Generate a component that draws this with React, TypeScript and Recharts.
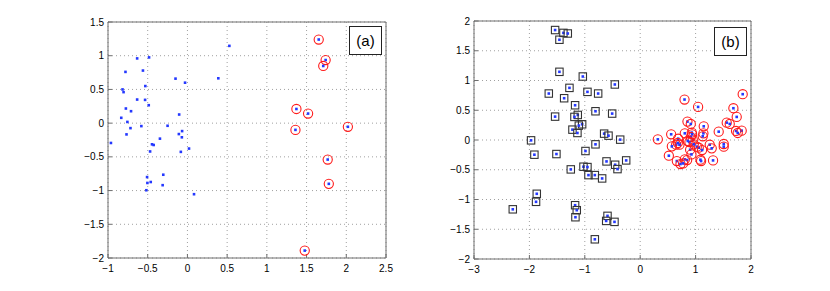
import { ScatterChart, Scatter, XAxis, YAxis, CartesianGrid } from 'recharts';

// panel (a)
const xTicksA = [-1, -0.5, 0, 0.5, 1, 1.5, 2, 2.5];
const yTicksA = [-2, -1.5, -1, -0.5, 0, 0.5, 1, 1.5];

const leftDots = [
  [-0.633, 0.96], [-0.483, 0.975], [-0.78, 0.76], [-0.56, 0.78], [-0.15, 0.66],
  [-0.03, 0.6], [-0.53, 0.55], [-0.817, 0.5], [-0.804, 0.46], [-0.633, 0.35],
  [-0.533, 0.345], [-0.487, 0.266], [-0.775, 0.217], [-0.71, 0.177], [-0.104, 0.128],
  [-0.833, 0.079], [-0.756, 0.018], [-0.717, -0.074], [-0.58, -0.044], [-0.25, -0.039],
  [-0.767, -0.167], [-0.067, -0.118], [-0.108, -0.162], [-0.07, -0.21], [-0.346, -0.23],
  [-0.963, -0.294], [-0.446, -0.314], [-0.425, -0.324], [0.02, -0.377], [-0.47, -0.42],
  [-0.083, -0.426], [-0.304, -0.765], [-0.508, -0.8], [-0.312, -0.92], [-0.504, -0.887],
  [-0.462, -0.873], [-0.517, -0.995], [0.083, -1.054], [0.528, 1.146], [0.389, 0.665],
];

const leftCircled = [
  [1.653, 1.24], [1.74, 0.936], [1.71, 0.848], [1.372, 0.21], [1.519, 0.142],
  [1.36, -0.1], [2.02, -0.054], [1.766, -0.54], [1.78, -0.9], [1.477, -1.89],
];

// panel (b)
const xTicksB = [-3, -2, -1, 0, 1, 2];
const yTicksB = [-2, -1.5, -1, -0.5, 0, 0.5, 1, 1.5, 2];

const rightSquares = [
  [-1.536, 1.848], [-1.386, 1.8], [-1.307, 1.79], [-1.458, 1.685], [-1.458, 1.146],
  [-1.036, 1.067], [-0.458, 0.933], [-1.277, 0.876], [-0.952, 0.809], [-0.759, 0.781],
  [-1.65, 0.781], [-1.373, 0.702], [-1.175, 0.584], [-0.807, 0.483], [-0.506, 0.444],
  [-1.536, 0.393], [-1.127, 0.421], [-1.187, 0.388], [-1.048, 0.264], [-1.108, 0.242],
  [-1.223, 0.174], [-1.133, 0.118], [-0.651, 0.107], [-0.572, 0.073], [-0.361, 0.006],
  [-1.97, -0.006], [-0.807, -0.073], [-0.988, -0.185], [-1.91, -0.247], [-1.512, -0.236],
  [-0.253, -0.343], [-0.608, -0.36], [-0.452, -0.416], [-0.41, -0.489], [-1.024, -0.449],
  [-0.952, -0.455], [-1.253, -0.494], [-0.934, -0.59], [-0.819, -0.59], [-0.687, -0.646],
  [-1.867, -0.904], [-1.88, -1.039], [-2.3, -1.165], [-1.175, -1.096], [-1.145, -1.18],
  [-1.169, -1.298], [-0.59, -1.275], [-0.614, -1.36], [-0.464, -1.376], [-0.819, -1.669],
];

const rightCircled = [
  [0.8, 0.68], [1.045, 0.556], [1.85, 0.77], [1.682, 0.534], [1.742, 0.388],
  [1.562, 0.292], [1.616, 0.27], [0.853, 0.309], [0.913, 0.27], [1.147, 0.23],
  [1.417, 0.14], [1.73, 0.152], [1.832, 0.157], [1.76, 0.118], [0.559, 0.096],
  [0.805, 0.112], [0.931, 0.124], [1.141, 0.112], [1.129, 0.062], [0.318, 0.011],
  [0.685, 0.022], [0.913, 0.05], [0.949, 0.006], [0.889, -0.034], [0.679, -0.05],
  [0.649, -0.079], [0.709, -0.079], [0.571, -0.107], [1.021, -0.112], [1.057, -0.129],
  [1.255, -0.079], [1.291, -0.14], [0.901, -0.163], [1.117, -0.169], [1.508, -0.067],
  [1.508, -0.112], [0.925, -0.242], [0.517, -0.264], [0.847, -0.337], [0.805, -0.326],
  [0.661, -0.354], [0.727, -0.404], [0.775, -0.393], [1.087, -0.331], [1.099, -0.354],
  [1.315, -0.343], [0.937, 0.096], [0.859, -0.017], [0.967, -0.073],
];

const toPts = (arr: number[][]) => arr.map(([x, y]) => ({ x, y }));
const fmt = (v: number) => String(v).replace('-', '\u2212');

const BLUE = '#2438ff';
const FRAME = '#6e6e6e';
const FONT = '"Liberation Sans", Arial, sans-serif';

const Dot = (p: any) => <rect x={p.cx - 1.3} y={p.cy - 1.3} width={2.6} height={2.6} fill={BLUE} />;

const Ring = (p: any) => (
  <g>
    <circle cx={p.cx} cy={p.cy} r={4.6} fill="none" stroke="#ff1a1a" strokeWidth={1.1} />
    <rect x={p.cx - 1.3} y={p.cy - 1.3} width={2.6} height={2.6} fill={BLUE} />
  </g>
);

const Box = (p: any) => (
  <g>
    <rect x={p.cx - 3.7} y={p.cy - 3.7} width={7.4} height={7.4} fill="none" stroke="#333" strokeWidth={1.1} />
    <rect x={p.cx - 1.3} y={p.cy - 1.3} width={2.6} height={2.6} fill={BLUE} />
  </g>
);

interface PanelProps {
  left: number;
  width: number;
  margin: { top: number; right: number; bottom: number; left: number };
  yWidth: number;
  xDomain: number[];
  yDomain: number[];
  xTicks: number[];
  yTicks: number[];
  children: any;
}

function Panel({ left, width, margin, yWidth, xDomain, yDomain, xTicks, yTicks, children }: PanelProps) {
  const tickStyle = { fill: '#000', fontSize: 10, fontFamily: FONT };
  return (
    <div style={{ position: 'absolute', left, top: 0 }}>
      <ScatterChart width={width} height={291} margin={margin}>
        <CartesianGrid stroke="#a0a0a0" strokeDasharray="1 3" />
        <XAxis type="number" dataKey="x" domain={xDomain} ticks={xTicks} allowDataOverflow interval={0}
          height={20} tickSize={-4} tickMargin={11} tickFormatter={fmt} stroke={FRAME} tick={tickStyle} />
        <YAxis type="number" dataKey="y" domain={yDomain} ticks={yTicks} allowDataOverflow interval={0}
          width={yWidth} tickSize={-4} tickMargin={8} tickFormatter={fmt} stroke={FRAME} tick={tickStyle} />
        <XAxis xAxisId="t" orientation="top" type="number" domain={xDomain} ticks={xTicks} allowDataOverflow
          interval={0} height={1} tickSize={-4} tick={false} stroke={FRAME} />
        <YAxis yAxisId="r" orientation="right" type="number" domain={yDomain} ticks={yTicks} allowDataOverflow
          interval={0} width={1} tickSize={-4} tick={false} stroke={FRAME} />
        {children}
      </ScatterChart>
    </div>
  );
}

const labelBox = (left: number, top: number, text: string) => (
  <div style={{
    position: 'absolute', left, top, width: 31, height: 27, border: '1px solid #222', background: '#fff',
    fontFamily: FONT, fontSize: 15, lineHeight: '27px', textAlign: 'center', color: '#000',
  }}>{text}</div>
);

export default function App() {
  return (
    <div style={{ position: 'absolute', left: 0, top: 0, width: 830, height: 291, background: '#fff', overflow: 'hidden' }}>
      <Panel left={0} width={415} margin={{ top: 21, right: 28, bottom: 13, left: 0 }} yWidth={108}
        xDomain={[-1, 2.5]} yDomain={[-2, 1.5]} xTicks={xTicksA} yTicks={yTicksA}>
        <Scatter data={toPts(leftDots)} shape={Dot} isAnimationActive={false} />
        <Scatter data={toPts(leftCircled)} shape={Ring} isAnimationActive={false} />
      </Panel>
      <Panel left={415} width={415} margin={{ top: 20, right: 78, bottom: 12, left: 0 }} yWidth={59}
        xDomain={[-3, 2]} yDomain={[-2, 2]} xTicks={xTicksB} yTicks={yTicksB}>
        <Scatter data={toPts(rightSquares)} shape={Box} isAnimationActive={false} />
        <Scatter data={toPts(rightCircled)} shape={Ring} isAnimationActive={false} />
      </Panel>
      {labelBox(349, 26, '(a)')}
      {labelBox(714, 27, '(b)')}
    </div>
  );
}
